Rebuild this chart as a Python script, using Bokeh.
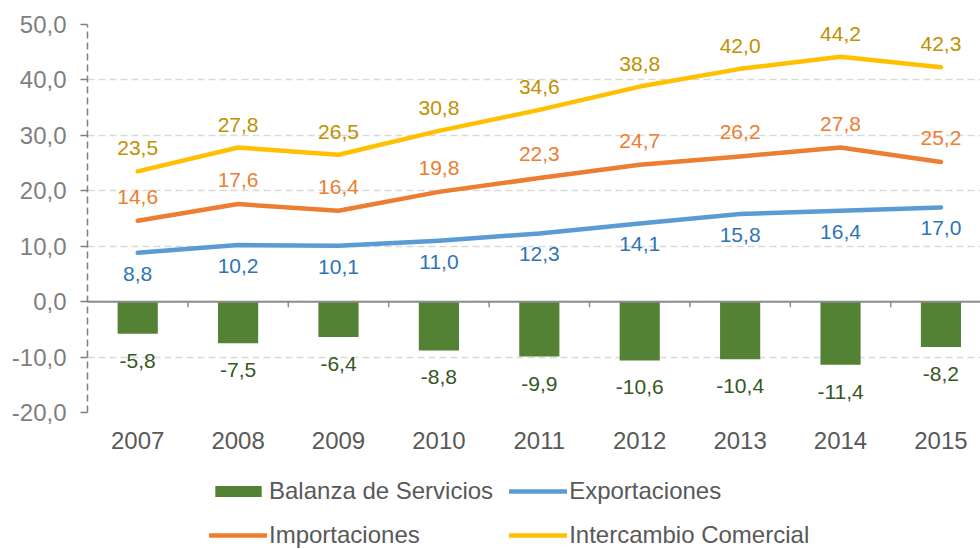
from bokeh.plotting import figure
from bokeh.layouts import column
from bokeh.models import ColumnDataSource, FixedTicker, Legend, LegendItem, Span
from bokeh.core.properties import value
from bokeh.embed import file_html
from bokeh.resources import INLINE

# ---- data ----
years = ["2007", "2008", "2009", "2010", "2011", "2012", "2013", "2014", "2015"]
balanza = [-5.8, -7.5, -6.4, -8.8, -9.9, -10.6, -10.4, -11.4, -8.2]
exportaciones = [8.8, 10.2, 10.1, 11.0, 12.3, 14.1, 15.8, 16.4, 17.0]
importaciones = [14.6, 17.6, 16.4, 19.8, 22.3, 24.7, 26.2, 27.8, 25.2]
intercambio = [23.5, 27.8, 26.5, 30.8, 34.6, 38.8, 42.0, 44.2, 42.3]
y_ticks = [-20, -10, 0, 10, 20, 30, 40, 50]

C_BAL, C_EXP, C_IMP, C_INT = "#548235", "#5B9BD5", "#ED7D31", "#FFC000"


def fmt(v):
    return f"{v:.1f}".replace(".", ",")


x = list(range(len(years)))
FONT = "Liberation Sans"

src = ColumnDataSource(dict(
    x=x,
    bal=balanza, bal_l=[fmt(v) for v in balanza],
    exp=exportaciones, exp_l=[fmt(v) for v in exportaciones],
    imp=importaciones, imp_l=[fmt(v) for v in importaciones],
    inte=intercambio, inte_l=[fmt(v) for v in intercambio],
))

p = figure(width=980, height=459, frame_width=893, frame_height=388,
           x_range=(-0.5, 8.394), y_range=(-20, 50),
           output_backend="svg", toolbar_location=None,
           min_border_left=87, min_border_right=0, min_border_top=24,
           min_border_bottom=47)
p.outline_line_color = None
p.background_fill_color = "white"

# grid
p.xgrid.visible = False
p.ygrid.ticker = FixedTicker(ticks=y_ticks)
p.ygrid.grid_line_color = "#d9d9d9"
p.ygrid.grid_line_width = 1.5
p.ygrid.grid_line_dash = "7 4"

# y axis
p.yaxis.ticker = FixedTicker(ticks=y_ticks)
p.yaxis.major_label_overrides = {t: fmt(t) for t in y_ticks}
p.yaxis.axis_line_color = "#7f7f7f"
p.yaxis.axis_line_width = 1.5
p.yaxis.axis_line_dash = "7 4"
p.yaxis.major_tick_line_color = "#7f7f7f"
p.yaxis.major_tick_line_width = 1.5
p.yaxis.major_tick_out = 7
p.yaxis.major_tick_in = 0
p.yaxis.minor_tick_line_color = None
p.yaxis.major_label_standoff = 14
p.yaxis.major_label_text_font = FONT
p.yaxis.major_label_text_font_size = "24px"
p.yaxis.major_label_text_color = "#7f7f7f"

# x axis (labels only, at the bottom)
p.xaxis.ticker = FixedTicker(ticks=x)
p.xaxis.major_label_overrides = {i: y for i, y in zip(x, years)}
p.xaxis.axis_line_color = None
p.xaxis.major_tick_line_color = None
p.xaxis.minor_tick_line_color = None
p.xaxis.major_tick_out = 0
p.xaxis.major_tick_in = 0
p.xaxis.major_label_standoff = 19
p.xaxis.major_label_text_font = FONT
p.xaxis.major_label_text_font_size = "24px"
p.xaxis.major_label_text_color = "#595959"

# bars
p.vbar(x="x", top="bal", bottom=0, width=0.4, source=src,
       fill_color=C_BAL, line_color=None)

# zero axis line with category-boundary ticks
p.add_layout(Span(location=0, dimension="width", line_color="#8c8c8c", line_width=2))
bounds = [i + 0.5 for i in x[:-1]]
p.segment(x0=bounds, y0=[0] * len(bounds), x1=bounds, y1=[-1.0] * len(bounds),
          line_color="#8c8c8c", line_width=1.5)

# lines
line_kw = dict(line_width=4.5, line_cap="round", line_join="round")
p.line("x", "exp", source=src, line_color=C_EXP, **line_kw)
p.line("x", "imp", source=src, line_color=C_IMP, **line_kw)
p.line("x", "inte", source=src, line_color=C_INT, **line_kw)

# data labels
common = dict(source=src, text_font=value(FONT), text_font_size="21px",
              text_align="center", text_baseline="middle")
p.text(x="x", y="bal", text="bal_l", y_offset=27, text_color="#385723", **common)
p.text(x="x", y="exp", text="exp_l", y_offset=21, text_color="#2E75B6", **common)
p.text(x="x", y="imp", text="imp_l", y_offset=-24, text_color="#ED7D31", **common)
p.text(x="x", y="inte", text="inte_l", y_offset=-23, text_color="#BF9000", **common)

# ---- legend strip (separate figure below the chart) ----
# the same series are drawn here but fall outside this strip's view,
# so only their legend swatches show
lg = figure(width=980, height=90, x_range=(-0.5, 8.394), y_range=(1000, 1001),
            x_axis_type=None, y_axis_type=None,
            output_backend="svg", toolbar_location=None,
            min_border=0)
lg.outline_line_color = None
lg.grid.visible = False
sw_bal = lg.vbar(x="x", top="bal", bottom=0, width=0.4, source=src,
                 fill_color=C_BAL, line_color=None)
sw_exp = lg.line("x", "exp", source=src, line_color=C_EXP, line_width=4.5, line_cap="round")
sw_imp = lg.line("x", "imp", source=src, line_color=C_IMP, line_width=4.5, line_cap="round")
sw_int = lg.line("x", "inte", source=src, line_color=C_INT, line_width=4.5, line_cap="round")

legend = Legend(items=[
    LegendItem(label="Balanza de Servicios", renderers=[sw_bal]),
    LegendItem(label="Exportaciones", renderers=[sw_exp]),
    LegendItem(label="Importaciones", renderers=[sw_imp]),
    LegendItem(label="Intercambio Comercial", renderers=[sw_int]),
], location=(122, 0), ncols=2, orientation="horizontal")
legend.margin = 0
legend.padding = 0
legend.spacing = 16
legend.border_line_color = None
legend.background_fill_alpha = 0
legend.glyph_width = 58
legend.glyph_height = 14
legend.label_height = 22
legend.label_standoff = 2
legend.label_text_font = FONT
legend.label_text_font_size = "24px"
legend.label_text_color = "#595959"
lg.add_layout(legend)

layout = column(p, lg, spacing=0)
open("out.html", "w").write(file_html(layout, INLINE))
